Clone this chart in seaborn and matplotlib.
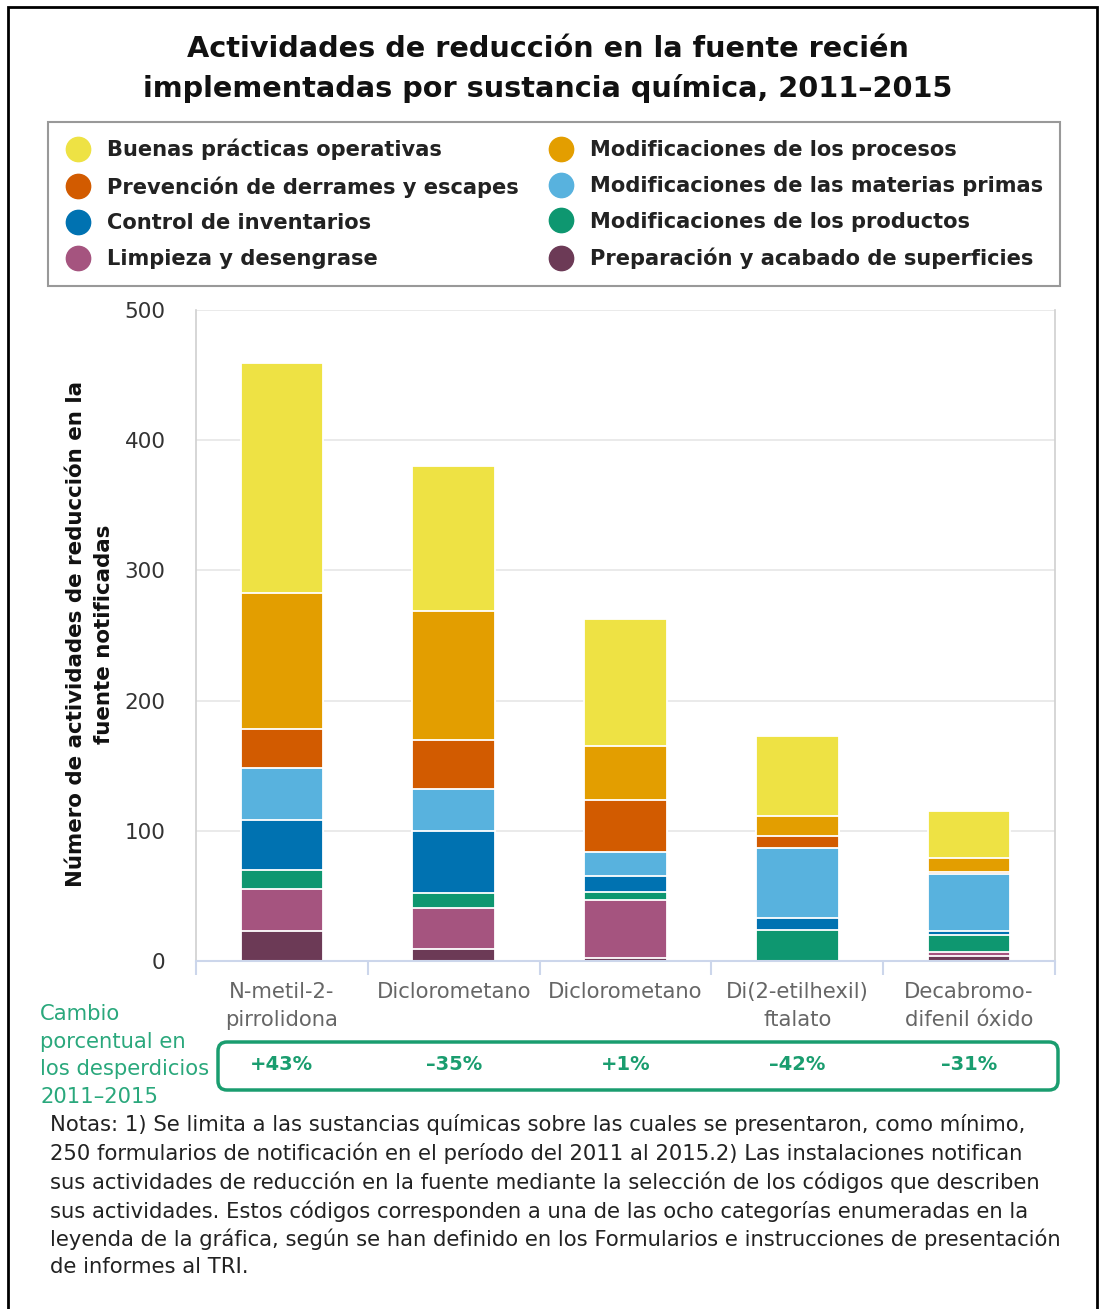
import numpy as np
import matplotlib.pyplot as plt
import seaborn as sns
from matplotlib.patches import FancyBboxPatch, Rectangle
from matplotlib.lines import Line2D
from matplotlib.transforms import IdentityTransform, blended_transform_factory

# --- data ---
chemicals = ['N-metil-2-\npirrolidona', 'Diclorometano', 'Diclorometano',
             'Di(2-etilhexil)\nftalato', 'Decabromo-\ndifenil óxido']
pct_change = ['+43%', '–35%', '+1%', '–42%', '–31%']

# segments, stacked from the bottom up
preparacion = [23, 9, 2, 0, 4]
limpieza = [32, 32, 45, 0, 3]
productos = [15, 11, 6, 24, 13]
inventarios = [38, 48, 12, 9, 3]
materias = [40, 32, 19, 54, 44]
derrames = [30, 38, 40, 9, 1]
procesos = [105, 99, 41, 15, 11]
buenas = [176, 111, 98, 62, 36]

series = [preparacion, limpieza, productos, inventarios, materias, derrames, procesos, buenas]
names = ['Preparación y acabado de superficies', 'Limpieza y desengrase',
         'Modificaciones de los productos', 'Control de inventarios',
         'Modificaciones de las materias primas', 'Prevención de derrames y escapes',
         'Modificaciones de los procesos', 'Buenas prácticas operativas']
colors = ['#6C3A56', '#A5547F', '#0E9770', '#0072B1',
          '#58B2DE', '#D25B00', '#E39E00', '#EEE244']

sns.set_theme(style='whitegrid')
plt.rcParams['font.family'] = ['DejaVu Sans']

W, H = 1099, 1309
fig = plt.figure(figsize=(W / 100, H / 100), dpi=100)
ax = fig.add_axes([196 / W, 1 - 961 / H, (1055 - 196) / W, (961 - 310) / H])

# stacked bars: draw cumulative totals from the top down
tops = np.cumsum(np.array(series), axis=0)
xpos = list(range(len(chemicals)))
for i in reversed(range(len(series))):
    sns.barplot(x=xpos, y=tops[i], color=colors[i], saturation=1, width=0.48,
                edgecolor='white', linewidth=1.3, ax=ax, zorder=2)

ax.set_xlim(-0.5, len(chemicals) - 0.5)
ax.set_ylim(0, 500)
ax.set_yticks(range(0, 501, 100))
ax.set_axisbelow(True)
ax.yaxis.grid(True, color='#e6e6e6', linewidth=1.2)
ax.xaxis.grid(False)
ax.set_xticks(xpos)
ax.set_xticklabels(chemicals, fontsize=15.2, color='#666666', linespacing=1.5)
ax.set_xticks(np.arange(-0.5, len(chemicals), 1), minor=True)
ax.tick_params(axis='x', which='major', length=0, pad=15)
ax.tick_params(axis='x', which='minor', bottom=True, length=10, width=1.5,
               color='#ccd6eb', direction='out')
ax.tick_params(axis='y', length=0, pad=22, labelsize=15.5, labelcolor='#333333')
ax.set_xlabel('')
ax.set_ylabel('')
ax.spines['top'].set_visible(False)
for s in ['left', 'right']:
    ax.spines[s].set_color('#d0d0d0')
    ax.spines[s].set_linewidth(1.2)
ax.spines['bottom'].set_color('#ccd6eb')
ax.spines['bottom'].set_linewidth(1.5)

fig.text(90 / W, 1 - 634 / H,
         'Número de actividades de reducción en la\nfuente notificadas',
         rotation=90, ha='center', va='center', fontsize=15.4, fontweight='bold',
         linespacing=1.55, color='#111111')

# title
fig.text(548 / W, 1 - 69 / H,
         'Actividades de reducción en la fuente recién\nimplementadas por sustancia química, 2011–2015',
         ha='center', va='center', fontsize=20.7, fontweight='bold', linespacing=1.45,
         color='#111111')

# legend: two columns, filled column by column
order = [7, 5, 3, 1, 6, 4, 2, 0]
handles = [Line2D([], [], marker='o', linestyle='', markersize=17.5,
                  markerfacecolor=colors[k], markeredgecolor=colors[k]) for k in order]
leg = fig.legend(handles, [names[k] for k in order], ncol=2,
                 loc='upper left', bbox_to_anchor=(48 / W, 1 - 122 / H),
                 prop={'size': 15.1, 'weight': 'bold'}, frameon=True, fancybox=False,
                 edgecolor='#999999', framealpha=1, borderpad=0.8,
                 labelspacing=0.75, handlelength=1.3, handletextpad=0.7,
                 columnspacing=1.4, borderaxespad=0)
leg.get_frame().set_linewidth(1.5)
for t in leg.get_texts():
    t.set_color('#222222')

# percent change row
green = '#1a9d6f'
fig.patches.append(FancyBboxPatch((218, H - 1090), 1058 - 218, 48,
                                  boxstyle='round,pad=0,rounding_size=9',
                                  transform=IdentityTransform(), fill=False,
                                  edgecolor=green, linewidth=2.5, figure=fig))
trans = blended_transform_factory(ax.transData, fig.transFigure)
for i, p in enumerate(pct_change):
    ax.text(i, 1 - 1064 / H, p, transform=trans, ha='center', va='center',
            fontsize=14, fontweight='bold', color=green, clip_on=False)
fig.text(40 / W, 1 - 1004 / H, 'Cambio\nporcentual en\nlos desperdicios\n2011–2015',
         ha='left', va='top', fontsize=15.2, color='#2aa87c', linespacing=1.48)

notes = ('Notas: 1) Se limita a las sustancias químicas sobre las cuales se presentaron, como mínimo,\n'
         '250 formularios de notificación en el período del 2011 al 2015.2) Las instalaciones notifican\n'
         'sus actividades de reducción en la fuente mediante la selección de los códigos que describen\n'
         'sus actividades. Estos códigos corresponden a una de las ocho categorías enumeradas en la\n'
         'leyenda de la gráfica, según se han definido en los Formularios e instrucciones de presentación\n'
         'de informes al TRI.')
fig.text(50 / W, 1 - 1114 / H, notes, ha='left', va='top', fontsize=15.2,
         color='#222222', linespacing=1.42)

# outer frame
fig.patches.append(Rectangle((8, -10), 1097 - 8, H - 7 + 10, transform=IdentityTransform(),
                             fill=False, edgecolor='black', linewidth=2, figure=fig))

fig.savefig('out.png', dpi=100)
